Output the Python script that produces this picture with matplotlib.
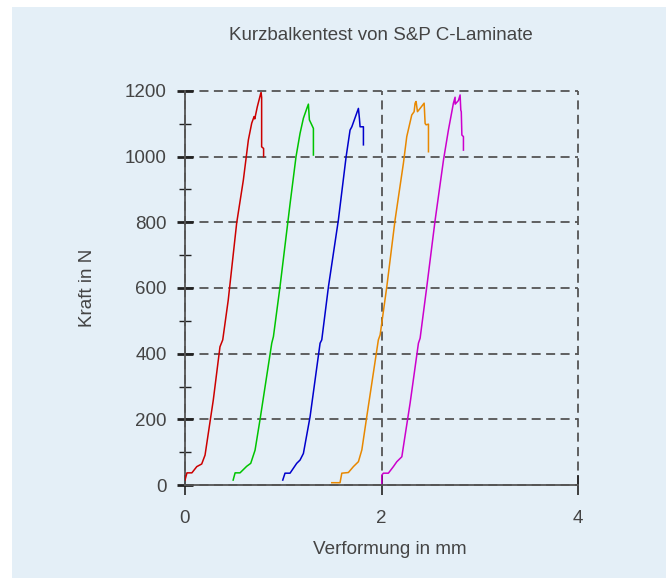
import matplotlib
matplotlib.use("Agg")
import matplotlib.pyplot as plt
from matplotlib.patches import Rectangle
from matplotlib.ticker import MultipleLocator

plt.rcParams['font.family'] = ['Liberation Sans', 'DejaVu Sans']

# Kurzbalkentest, five specimens: deformation (mm) vs force (N)
x_red = [0.0, 0.02, 0.07, 0.12, 0.17, 0.204, 0.288, 0.356, 0.384, 0.44, 0.526,
         0.594, 0.645, 0.679, 0.703, 0.71, 0.736, 0.771, 0.775, 0.78, 0.78, 0.80, 0.80]
y_red = [15, 37, 37, 56, 64, 91, 259, 421, 442, 563, 798,
         929, 1051, 1102, 1122, 1115, 1152, 1193, 1195, 1180, 1030, 1025, 1000]

x_green = [0.49, 0.51, 0.56, 0.628, 0.669, 0.713, 0.764, 0.883, 0.9, 0.967, 1.07,
           1.13, 1.171, 1.205, 1.24, 1.256, 1.266, 1.29, 1.307, 1.307]
y_green = [15, 37, 37, 57, 66, 106, 200, 432, 452, 604, 858,
           1000, 1071, 1117, 1147, 1160, 1112, 1097, 1086, 1005]

x_blue = [0.995, 1.018, 1.069, 1.137, 1.171, 1.205, 1.273, 1.375, 1.392, 1.46, 1.561,
          1.64, 1.68, 1.698, 1.765, 1.775, 1.782, 1.816, 1.816]
y_blue = [15, 36, 36, 66, 76, 96, 208, 432, 442, 604, 807,
          1000, 1081, 1091, 1147, 1117, 1091, 1091, 1036]

x_orange = [1.494, 1.578, 1.596, 1.663, 1.714, 1.765, 1.80, 1.85, 1.968, 1.986, 2.054,
            2.138, 2.223, 2.257, 2.308, 2.332, 2.342, 2.352, 2.366, 2.393, 2.434,
            2.444, 2.454, 2.478, 2.478]
y_orange = [7, 7, 36, 38, 56, 71, 107, 208, 442, 457, 604,
            807, 980, 1061, 1127, 1137, 1163, 1168, 1137, 1147, 1163,
            1101, 1097, 1099, 1015]

x_magenta = [2.003, 2.003, 2.019, 2.07, 2.121, 2.156, 2.207, 2.233, 2.291, 2.376, 2.393,
             2.461, 2.546, 2.631, 2.681, 2.732, 2.749, 2.75, 2.783, 2.80, 2.807,
             2.812, 2.818, 2.834, 2.834]
y_magenta = [5, 30, 36, 36, 56, 71, 86, 137, 249, 432, 447,
             604, 807, 990, 1081, 1163, 1181, 1160, 1171, 1188, 1142,
             1137, 1066, 1061, 1020]

curves = [(x_red, y_red, '#cc0000'),
          (x_green, y_green, '#00c400'),
          (x_blue, y_blue, '#0000cc'),
          (x_orange, y_orange, '#e88800'),
          (x_magenta, y_magenta, '#cc00cc')]

bg = '#e4eff7'
txt = '#444444'

fig = plt.figure(figsize=(6.66, 5.78), dpi=100)
fig.patch.set_facecolor('white')
fig.patches.append(Rectangle((12 / 666, 0), 1, 1 - 7 / 578, transform=fig.transFigure,
                             facecolor=bg, edgecolor='none', zorder=-10))

ax = fig.add_axes([185 / 666, 93 / 578, 393 / 666, 394 / 578])
ax.set_facecolor('none')
ax.set_zorder(5)

for xs, ys, c in curves:
    ax.plot(xs, ys, color=c, lw=1.1, zorder=3)

ax.set_xlim(0, 4)
ax.set_ylim(0, 1200)
ax.xaxis.set_major_locator(MultipleLocator(2))
ax.yaxis.set_major_locator(MultipleLocator(200))
ax.yaxis.set_minor_locator(MultipleLocator(100))

ax.grid(True, which='major', color='#555555', linestyle=(0, (5, 3)), lw=1.3)
for gl in ax.get_xgridlines() + ax.get_ygridlines():
    gl.set_clip_on(False)

for s in ['top', 'right']:
    ax.spines[s].set_visible(False)
for s in ['left', 'bottom']:
    ax.spines[s].set_color('#555555')
    ax.spines[s].set_linewidth(1.3)

ax.tick_params(axis='y', which='major', direction='inout', length=12, width=2,
               color='#222222', pad=7, labelsize=13.5, labelcolor=txt)
ax.tick_params(axis='y', which='minor', direction='inout', length=9, width=1,
               color='#222222')
ax.tick_params(axis='x', which='major', direction='inout', length=14, width=1.2,
               color='#222222', pad=11, labelsize=13.5, labelcolor=txt)

ax.set_xlabel('Verformung in mm', fontsize=13.6, color=txt)
ax.set_ylabel('Kraft in N', fontsize=13.6, color=txt)
ax.xaxis.set_label_coords((390 - 185) / 393, -(550 - 485) / 394)
ax.yaxis.set_label_coords(-(185 - 88) / 393, (485 - 288) / 394)
ax.xaxis.label.set_va('center')
ax.yaxis.label.set_va('center')
fig.text(381 / 666, 1 - 35 / 578, 'Kurzbalkentest von S&P C-Laminate',
         ha='center', va='center', fontsize=13.5, color=txt)

fig.savefig('out.png', dpi=100)
